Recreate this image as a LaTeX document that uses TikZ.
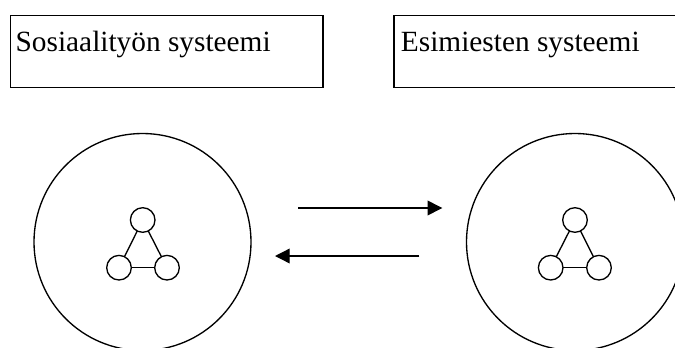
\documentclass[tikz,border=0pt]{standalone}
\usepackage{fontspec}
\setmainfont{Liberation Serif}
\usetikzlibrary{arrows.meta}
\begin{document}
\begin{tikzpicture}[x=0.75pt,y=-0.75pt,
  line width=1pt,
  sysbox/.style={draw, rectangle, inner sep=0pt, outer sep=0pt, anchor=north west, minimum height=54.3pt},
  boxlabel/.style={anchor=base west, inner sep=0pt, font=\fontsize{22}{26}\selectfont},
  bigcirc/.style={draw, circle, inner sep=0pt, outer sep=0pt, minimum size=162.75pt},
  smallcirc/.style={draw, circle, inner sep=0pt, outer sep=0pt, minimum size=18.45pt},
  flow/.style={-{Triangle[length=11pt,width=11pt]}}
]
\useasboundingbox (0,0) rectangle (675,347);
\clip (0,0) rectangle (675,347);
% boxes
\node[sysbox, minimum width=234.5pt] (box1) at (10.3,15.3) {};
\node[boxlabel] (t1) at (15,51.7) {Sosiaalityön systeemi};
\node[sysbox, minimum width=225pt] (box2) at (394,15.3) {};
\node[boxlabel] (t2) at (400.3,51.7) {Esimiesten systeemi};
% big circles
\node[bigcirc] (c1) at (142.5,242) {};
\node[bigcirc] (c2) at (575,242) {};
% small triangles
\node[smallcirc] (a1) at (142.7,220) {};
\node[smallcirc] (b1) at (119,267.7) {};
\node[smallcirc] (d1) at (167,267.7) {};
\draw (a1) -- (b1);
\draw (a1) -- (d1);
\draw (b1) -- (d1);
\node[smallcirc] (a2) at (575,220) {};
\node[smallcirc] (b2) at (550.7,267.7) {};
\node[smallcirc] (d2) at (599,267.7) {};
\draw (a2) -- (b2);
\draw (a2) -- (d2);
\draw (b2) -- (d2);
% arrows
\coordinate (p1) at (298,208);
\coordinate (q1) at (442.3,208);
\coordinate (p2) at (419.3,256);
\coordinate (q2) at (275,256);
\draw[flow] (p1) -- (q1);
\draw[flow] (p2) -- (q2);
\end{tikzpicture}
\end{document}
